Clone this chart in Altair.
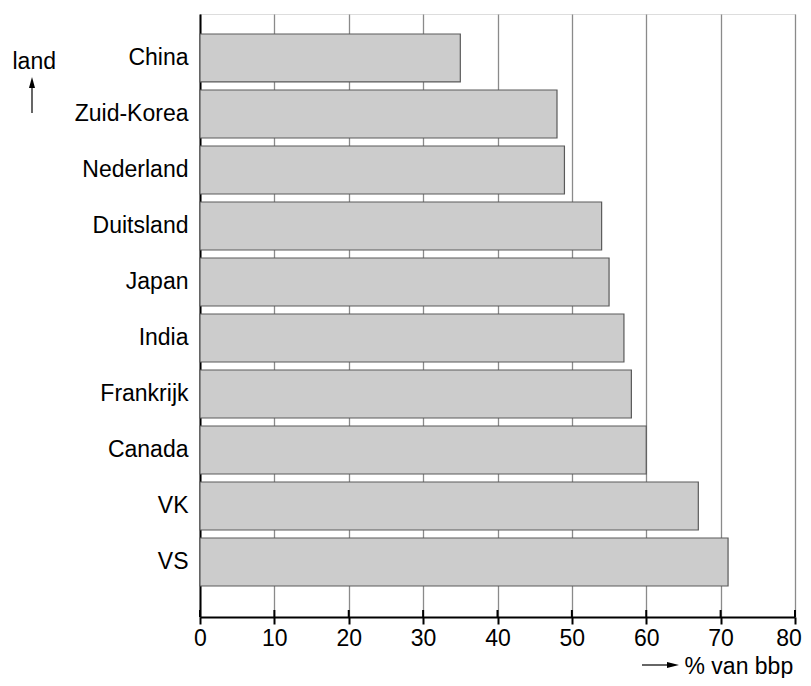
import altair as alt
import pandas as pd

countries = ["China", "Zuid-Korea", "Nederland", "Duitsland", "Japan",
             "India", "Frankrijk", "Canada", "VK", "VS"]
values = [35, 48, 49, 54, 55, 57, 58, 60, 67, 71]
x_ticks = [0, 10, 20, 30, 40, 50, 60, 70, 80]

FONT = "Liberation Sans"
FS = 23
W, H = 595, 603

df = pd.DataFrame({"land": countries, "pct": values})
ticks_df = pd.DataFrame({"t": x_ticks})
one = pd.DataFrame({"a": [0]})

bars = alt.Chart(df).mark_bar(
    color="#cccccc", stroke="#5a5a5a", strokeWidth=1.2
).encode(
    x=alt.X("pct:Q",
            scale=alt.Scale(domain=[0, 80], nice=False, zero=True),
            axis=alt.Axis(values=x_ticks, title="% van bbp",
                          grid=True, gridColor="#8a8a8a", gridWidth=1.3,
                          domainColor="black", domainWidth=2,
                          tickColor="black", tickWidth=2, tickSize=7,
                          labelFont=FONT, labelFontSize=FS, labelColor="black",
                          labelPadding=3, labelFlush=True, labelFlushOffset=6.4,
                          titleFont=FONT, titleFontSize=FS, titleFontWeight="normal",
                          titleColor="black", titleAlign="left", titleAnchor="start",
                          titleX=484, titleY=56, titleBaseline="alphabetic")),
    y=alt.Y("land:N", sort=countries,
            scale=alt.Scale(paddingInner=0.143, paddingOuter=0.455, align=0.392),
            axis=alt.Axis(title="land", ticks=False, grid=False,
                          domainColor="black", domainWidth=2,
                          labelFont=FONT, labelFontSize=FS, labelColor="black",
                          labelPadding=12,
                          titleFont=FONT, titleFontSize=FS, titleFontWeight="normal",
                          titleColor="black", titleAngle=0, titleAlign="left",
                          titleX=-188, titleY=54, titleBaseline="alphabetic")),
)

# upward part of x-axis ticks
up_ticks = alt.Chart(ticks_df).mark_rule(color="black", strokeWidth=2).encode(
    x="t:Q",
    y=alt.value(H - 7),
    y2=alt.value(H),
)

# arrow next to "land"
up_line = alt.Chart(one).mark_rule(color="black", strokeWidth=1.2).encode(
    x=alt.value(-168), y=alt.value(72), y2=alt.value(99)
)
up_head = alt.Chart(one).mark_point(
    shape="M0,-1L-0.55,1L0.55,1Z", filled=True, color="black", opacity=1, size=121
).encode(x=alt.value(-168), y=alt.value(68.5))

# arrow next to "% van bbp"
r_line = alt.Chart(one).mark_rule(color="black", strokeWidth=1.2).encode(
    x=alt.value(442), x2=alt.value(470), y=alt.value(651)
)
r_head = alt.Chart(one).mark_point(
    shape="M1,0L-1,-0.5L-1,0.5Z", filled=True, color="black", opacity=1, size=144
).encode(x=alt.value(473), y=alt.value(651))

chart = alt.layer(bars, up_ticks, up_line, up_head, r_line, r_head).properties(
    width=W, height=H,
    autosize=alt.AutoSizeParams(type="none"),
    padding={"left": 192, "top": 6, "right": 8, "bottom": 61},
).configure_view(stroke=None).configure(background="white")

chart.save("out.html", embed_options={"renderer": "svg", "actions": False})
